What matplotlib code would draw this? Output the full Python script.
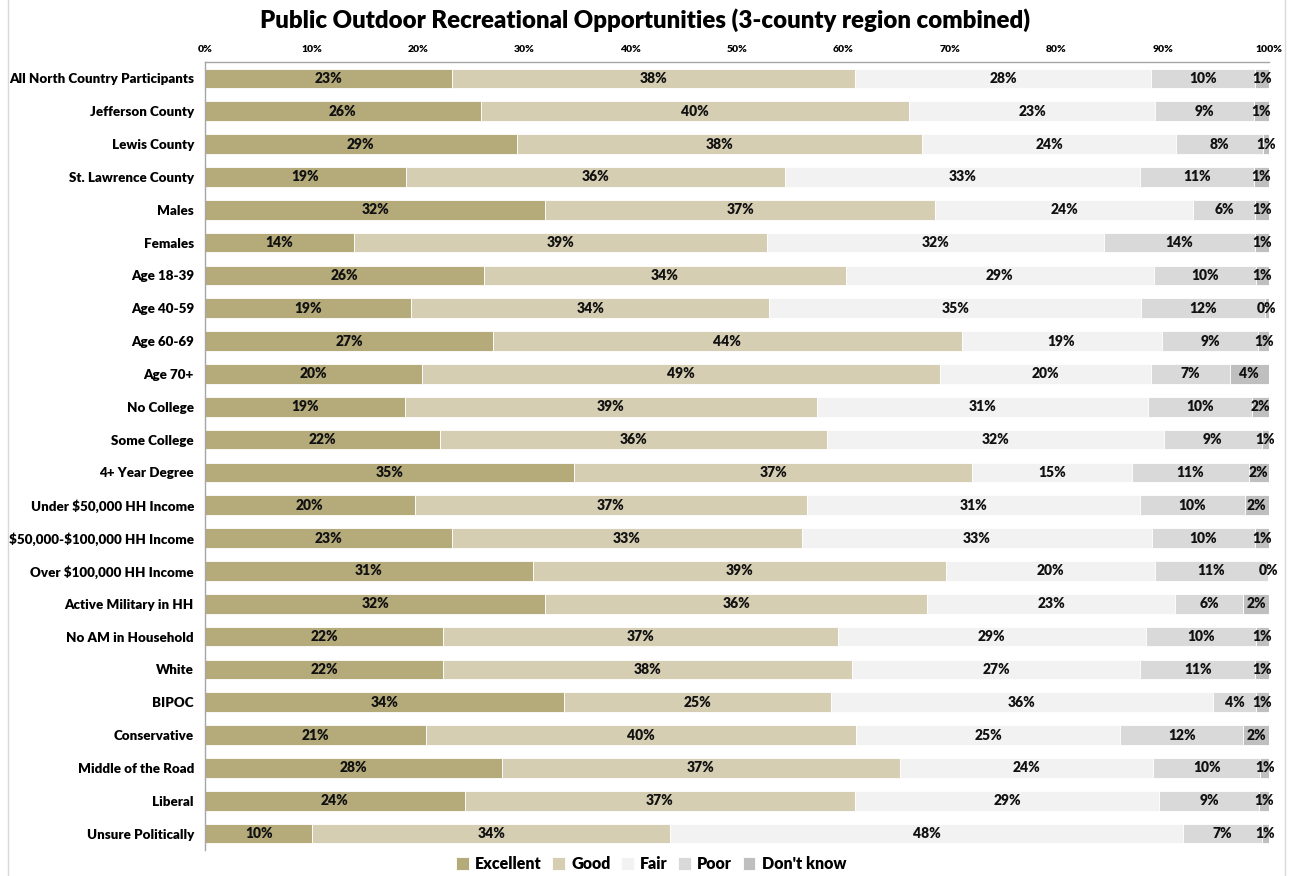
import matplotlib
matplotlib.use("Agg")
import matplotlib.pyplot as plt
from matplotlib.lines import Line2D
import numpy as np

categories = [
    "All North Country Participants", "Jefferson County", "Lewis County",
    "St. Lawrence County", "Males", "Females", "Age 18-39", "Age 40-59",
    "Age 60-69", "Age 70+", "No College", "Some College", "4+ Year Degree",
    "Under \\$50,000 HH Income", "\\$50,000-\\$100,000 HH Income",
    "Over \\$100,000 HH Income", "Active Military in HH", "No AM in Household",
    "White", "BIPOC", "Conservative", "Middle of the Road", "Liberal",
    "Unsure Politically",
]

excellent = [23.2, 25.9, 29.3, 18.9, 32.0, 14.0, 26.2, 19.4, 27.1, 20.4, 18.8, 22.1,
             34.7, 19.7, 23.2, 30.8, 32.0, 22.4, 22.4, 33.7, 20.8, 27.9, 24.4, 10.1]
good = [37.9, 40.3, 38.1, 35.6, 36.6, 38.8, 34.0, 33.6, 44.0, 48.7, 38.7, 36.4,
        37.4, 36.9, 32.9, 38.8, 35.9, 37.1, 38.4, 25.1, 40.4, 37.4, 36.7, 33.6]
fair = [27.8, 23.1, 23.9, 33.4, 24.3, 31.7, 29.0, 35.0, 18.8, 19.8, 31.1, 31.6,
        15.0, 31.3, 32.9, 19.7, 23.3, 28.9, 27.1, 35.9, 24.8, 23.8, 28.6, 48.2]
poor = [9.8, 9.3, 8.1, 10.7, 5.8, 14.2, 9.6, 11.6, 9.1, 7.4, 9.8, 9.2,
        11.0, 9.8, 9.7, 10.6, 6.4, 10.4, 10.8, 4.1, 11.6, 10.1, 9.4, 7.4]
dont_know = [1.3, 1.4, 0.6, 1.4, 1.3, 1.3, 1.2, 0.4, 1.0, 3.7, 1.6, 0.7,
             1.9, 2.3, 1.3, 0.1, 2.4, 1.2, 1.3, 1.2, 2.4, 0.8, 0.9, 0.7]

series_names = ["Excellent", "Good", "Fair", "Poor", "Don't know"]
colors = ["#B5AA7A", "#D6CEB2", "#F2F2F2", "#D9D9D9", "#BFBFBF"]

plt.rcParams["font.family"] = ["Lato", "DejaVu Sans"]
W = "heavy"

fig = plt.figure(figsize=(12.9, 8.76), dpi=100)
ax = fig.add_axes([205 / 1290, 1 - 850 / 876, 1064 / 1290, 788 / 876])

y = np.arange(len(categories))
left = np.zeros(len(categories))
for name, vals, col in zip(series_names, [excellent, good, fair, poor, dont_know], colors):
    vals = np.array(vals)
    bars = ax.barh(y, vals, left=left, height=0.6, color=col, label=name,
                   edgecolor="white", linewidth=0.6)
    for b, v in zip(bars, vals):
        ax.text(b.get_x() + b.get_width() / 2, b.get_y() + b.get_height() / 2,
                f"{v:.0f}%", ha="center", va="center", fontsize=10,
                fontweight=W, color="#111111")
    left += vals

ax.set_xlim(0, 100)
ax.set_ylim(len(categories) - 0.5, -0.5)
ax.set_yticks(y)
ax.set_yticklabels(categories, fontsize=9.6, fontweight=W)
ax.tick_params(axis="y", length=0, pad=8)

ax.xaxis.tick_top()
ax.set_xticks(np.arange(0, 101, 10))
ax.set_xticklabels([f"{t}%" for t in range(0, 101, 10)], fontsize=7.5, fontweight=W)
ax.tick_params(axis="x", length=0, pad=6)

for s in ["right", "bottom"]:
    ax.spines[s].set_visible(False)
for s in ["top", "left"]:
    ax.spines[s].set_color("#A6A6A6")
    ax.spines[s].set_linewidth(1.0)

fig.text(0.5, 1 - 20 / 876, "Public Outdoor Recreational Opportunities (3-county region combined)",
         ha="center", va="center", fontsize=17.3, fontweight=W)

fig.legend(loc="center", bbox_to_anchor=(651 / 1290, 1 - 864 / 876), ncol=5,
           frameon=False, handlelength=0.8, handleheight=0.8,
           handletextpad=0.4, columnspacing=0.65, prop={"weight": W, "size": 11.5})

# outer chart frame
for xf in [8 / 1290, 1285 / 1290]:
    fig.add_artist(Line2D([xf, xf], [0, 1], color="#D9D9D9", linewidth=1.0))

fig.savefig("out.png", dpi=100)
